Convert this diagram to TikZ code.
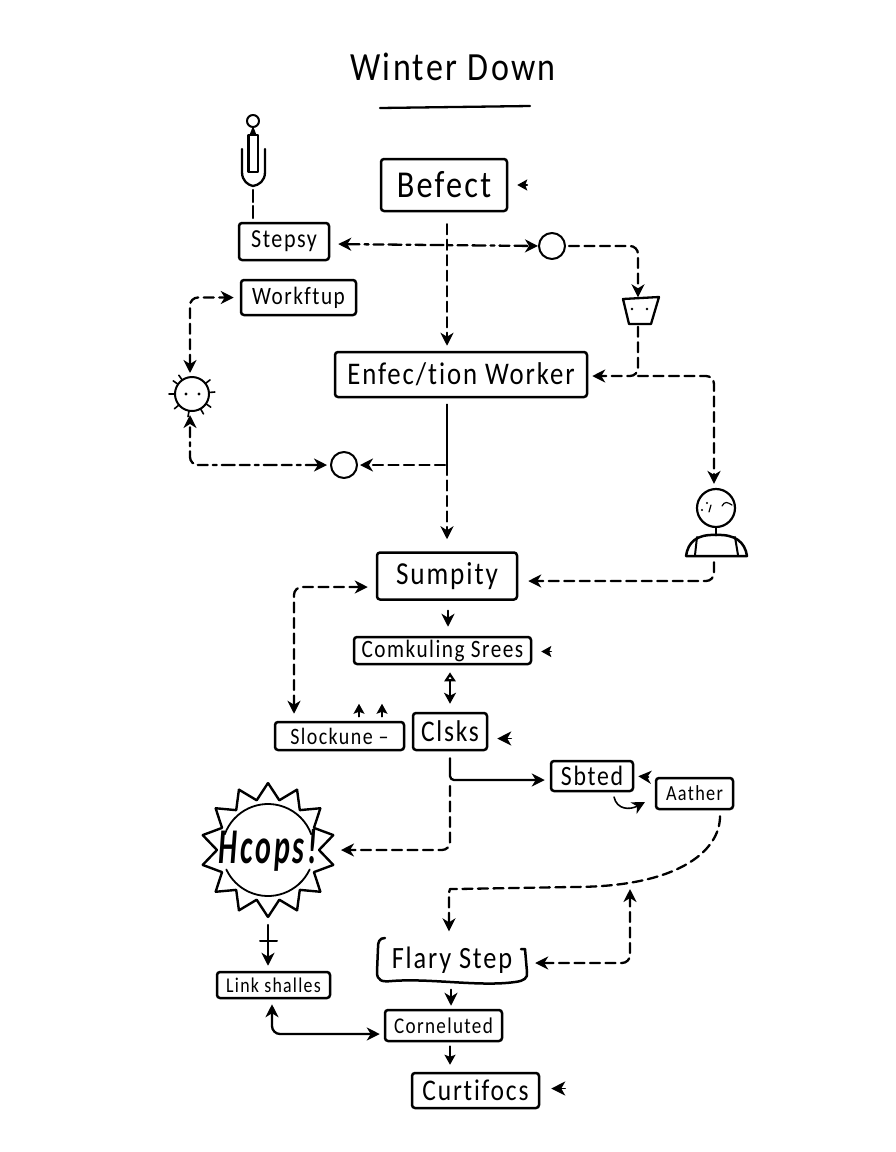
\documentclass[tikz,border=0pt]{standalone}
\usepackage{fontspec}
\setmainfont{Carlito}[LetterSpace=6,FakeStretch=0.85,Ligatures=NoCommon]
\usetikzlibrary{positioning,arrows.meta,calc}
\newcommand{\fsize}[1]{\fontsize{#1}{#1}\selectfont}
\tikzset{
	sketch/.style={x=1pt,y=-1pt,line cap=round,line join=round,>={Stealth[length=13pt,width=13pt,inset=4pt]}},
	stepbox/.style={draw,line width=2.5pt,rounded corners=3pt,inner sep=0pt,align=center},
	hubdot/.style={circle,draw,line width=2pt,minimum size=26pt,inner sep=0pt},
	solidline/.style={line width=2.3pt},
	dashline/.style={line width=2.3pt,dash pattern=on 10pt off 5.5pt,rounded corners=8pt},
	dashdot/.style={line width=2.3pt,dash pattern=on 13pt off 5pt on 4pt off 5pt on 10pt off 5pt,rounded corners=8pt},
	tipmark/.style={line width=1.5pt,-{Stealth[length=10pt,width=11pt,inset=2pt]}},
	bigmark/.style={line width=1.5pt,-{Stealth[length=14pt,width=14pt,inset=4pt]}}
}
\begin{document}
\begin{tikzpicture}[sketch]
	\useasboundingbox (0,0) rectangle (896,1152);
	
	% title
	\node[font=\fsize{40}] (title) at (453,67) {Winter Down};
	\draw[line width=2.3pt] (380,108) -- (530,106);
	
	% boxes, top to bottom
	\node[stepbox,minimum width=126pt,minimum height=52pt,font=\fsize{38}] (befect) at (444,185) {Befect};
	\node[stepbox,minimum width=90pt,minimum height=37pt,font=\fsize{26}] (stepsy) at (284,241.5) {Stepsy};
	\node[stepbox,minimum width=115pt,minimum height=35pt,font=\fsize{25}] (workftup) at (298.5,297.5) {Workftup};
	\node[stepbox,minimum width=252pt,minimum height=45pt,font=\fsize{31.5}] (enfec) at (461,374.5) {Enfec/tion Worker};
	\node[stepbox,minimum width=140pt,minimum height=47pt,font=\fsize{32}] (sumpity) at (447,576) {Sumpity};
	\node[stepbox,minimum width=177pt,minimum height=27pt,font=\fsize{25}] (combul) at (442.5,650.5) {Comkuling Srees};
	\node[stepbox,minimum width=74pt,minimum height=37pt,font=\fsize{30}] (clsks) at (450,731.5) {Clsks};
	\node[stepbox,minimum width=129pt,minimum height=28pt,font=\fsize{23.5}] (slock) at (339.5,736) {Slockune --};
	\node[stepbox,minimum width=82pt,minimum height=30pt,font=\fsize{28}] (sbted) at (592,776) {Sbted};
	\node[stepbox,minimum width=77pt,minimum height=31pt,font=\fsize{21.5}] (aather) at (694.5,793.5) {Aather};
	\node[stepbox,minimum width=113pt,minimum height=26pt,font=\fsize{21}] (link) at (273.5,985) {Link shalles};
	\node[minimum width=150pt,minimum height=45pt,inner sep=0pt,font=\fsize{31}] (flary) at (452,960) {Flary Step};
	\node[stepbox,minimum width=117pt,minimum height=31pt,font=\fsize{22.5}] (corn) at (443.5,1025.5) {Corneluted};
	\node[stepbox,minimum width=127pt,minimum height=35pt,font=\fsize{30}] (curt) at (475.5,1090.5) {Curtifocs};
	
	% flary step is only half closed
	\draw[line width=2.5pt] (385,938) .. controls (379,938) and (378,942) .. (378,948) -- (377,972)
		.. controls (377,981) and (382,982) .. (392,981) .. controls (430,978) and (480,987) .. (515,982)
		.. controls (524,981) and (528,978) .. (527,972) -- (525,949) -- (521,949);
	
	% small figures
	\node[circle,draw,line width=2pt,minimum size=12pt,inner sep=0pt] (clip) at (253,121) {};
	\node[hubdot] (hubb) at (552,246) {};
	\node[hubdot] (huba) at (344,465) {};
	\node[minimum width=36pt,minimum height=27pt,inner sep=0pt] (bucket) at (640,311) {};
	\node[circle,draw,line width=2pt,minimum size=34pt,inner sep=0pt] (sun) at (192,394) {};
	\node[circle,draw,line width=2.2pt,minimum size=38pt,inner sep=0pt] (head) at (716,508) {};
	\node[minimum width=62pt,minimum height=24pt,inner sep=0pt] (body) at (716.5,544) {};
	\node[font=\fsize{50}\bfseries\itshape\addfontfeature{FakeStretch=0.6}] (hcops) at (268,850) {Hcops!};
	\coordinate (hub) at (447,244);
	\coordinate (split) at (638,376);
	\coordinate (meet) at (447,465);
	\coordinate (bend) at (630,886);
	
	% bucket
	\draw[line width=2.3pt] (623,299) -- (659,297) -- (651,324) -- (629,324) -- cycle;
	\fill (632,309) circle (1.3) (647,309) circle (1.3);
	
	% clip figure
	\fill (253,126) -- (256.5,135) -- (249.5,135) -- cycle;
	\draw[line width=2.3pt] (248.5,135) -- (248.5,172) -- (258,172) -- (258,135) -- cycle;
	\draw[line width=2.3pt] (242,149) -- (242,172) .. controls (242,181) and (248,185) .. (253,186) .. controls (259,185) and (265,181) .. (265,172) -- (265,149);
	\draw[solidline,dash pattern=on 12pt off 4pt] (253,190) -- (stepsy.north -| clip);
	
	% sun rays and eyes
	\foreach \a in {-5,35,-38,-125,-145,180,140,100,60}
		\draw[line width=1.6pt] (sun) ++(\a:17) -- ++(\a:6);
	\fill (186,394) circle (1.6) (199,394) circle (1.6);
	
	% person
	\draw[line width=2.2pt] (head.south) -- (716,535);
	\draw[line width=2.5pt] (686,556) -- (747,556) .. controls (745,542) and (735,534) .. (716,535) .. controls (697,534) and (688,542) .. (686,556);
	\draw[line width=2pt] (695,555) -- (697,537) (738,555) -- (735,537);
	\fill (707,503) circle (1.2) (702,510) circle (1.2);
	\draw[line width=1.2pt] (711,505) -- (709,512) (722,506) .. controls (725,501) and (727,502) .. (732,505);
	
	% star
	\draw[line width=2.4pt] \foreach \a in {0,1,...,13} {($(hcops.center)+(\a*25.714+90:67)$) -- ($(hcops.center)+(\a*25.714+102.857:51)$) -- ($(hcops.center)+(\a*25.714+115.714:67)$)};
	\draw[line width=1.8pt] (hcops.center) ++(200:46) arc (200:340:46);
	\draw[line width=1.8pt] (hcops.center) ++(25:46) arc (25:155:46);
	
	% connectors
	\draw[->,dashline,shorten <=12pt,shorten >=5pt] (befect.south -| hub) -- (enfec.north -| hub);
	\draw[<->,dashdot,shorten <=8pt] (stepsy.east |- hub) -- (hubb.west);
	\draw[->,dashline,shorten <=3pt] (hubb.east) -| (bucket.north -| split);
	\draw[->,dashline,shorten <=2pt,shorten >=4pt] (bucket.south -| split) |- (enfec.east |- split);
	\draw[->,dashline,shorten >=4pt] (split) -| (head.north -| 714,0);
	\draw[->,dashline,shorten <=6pt,shorten >=10pt] (body.south -| 714,0) |- (sumpity.east |- 0,581);
	\draw[line width=1.2pt,shorten <=6pt] (enfec.south -| meet) -- (meet);
	\draw[->,dashline,shorten >=12pt] (meet) -- (sumpity.north -| meet);
	\draw[->,dashline,shorten <=2pt,shorten >=2pt] (meet) -- (huba.east);
	\draw[<->,dashdot,shorten >=3pt,shorten <=3pt] (huba.west) -| (sun.south -| 190,0);
	\draw[<->,dashline,shorten <=3pt,shorten >=6pt] (sun.north -| 190,0) |- (workftup.west);
	
	\draw[->,solidline,shorten <=10pt,shorten >=9pt] (sumpity.south -| 448,0) -- (combul.north -| 448,0);
	\draw[{Triangle[open,length=9pt,width=11pt]}-{Stealth[length=11pt,width=12pt,inset=3pt]},solidline,shorten <=7pt,shorten >=8pt] (combul.south -| 450,0) -- (clsks.north -| 450,0);
	\draw[<->,dashline,shorten <=7pt,shorten >=8pt] (slock.north -| 294,0) |- (sumpity.west |- 0,587);
	\draw[tipmark,line width=1.3pt] (slock.north -| 359,0) ++(0,-4) -- ++(0,-13);
	\draw[tipmark,line width=1.3pt] (slock.north -| 382,0) ++(0,-4) -- ++(0,-13);
	
	\draw[->,solidline,rounded corners=4pt,shorten <=7pt,shorten >=5pt] (clsks.south -| 450,0) |- (sbted.west |- 0,780);
	\draw[->,dashline,shorten >=3pt] (450,786) |- (hcops.center -| 338,0);
	\draw[<-,solidline,shorten <=3pt] (sbted.east) ++(1,0) -- ++(13,1);
	\draw[->,solidline,line width=1.6pt] (614,797) .. controls (617,810) and (630,810) .. (645,802);
	\draw[->,dashline,shorten <=6pt,shorten >=6pt] (aather.south -| 720,0) .. controls (720,850) and (680,886) .. (570,887) -- (458,889) .. controls (450,889) and (449,893) .. (449,900) -- (flary.north -| 449,0);
	\draw[<->,dashline,shorten <=8pt,shorten >=3pt] (flary.east |- 0,963) -| (bend);
	
	\draw[->,solidline,shorten <=7pt,shorten >=3pt] (flary.south -| 451,0) -- (corn.north -| 451,0);
	\draw[tipmark,line width=1.6pt,shorten <=4pt,shorten >=7pt] (corn.south -| 450,0) -- (curt.north -| 450,0);
	\draw[->,solidline,shorten >=5pt] (hcops.center -| 268,0) ++(0,75) -- (link.north -| 268,0);
	\draw[line width=2pt] (260,941) -- (277,941);
	\draw[<->,solidline,rounded corners=8pt,shorten <=5pt,shorten >=4pt] (link.south -| 272,0) |- (corn.west |- 0,1034);
	
	% loose arrowheads beside boxes
	\draw[tipmark] (befect.east) ++(19,0) -- ++(-10,0);
	\draw[tipmark] (combul.east) ++(19,1) -- ++(-10,0);
	\draw[bigmark] (clsks.east) ++(23,7) -- ++(-14,0);
	\draw[bigmark] (curt.east) ++(25,-2) -- ++(-14,0);
\end{tikzpicture}
\end{document}
